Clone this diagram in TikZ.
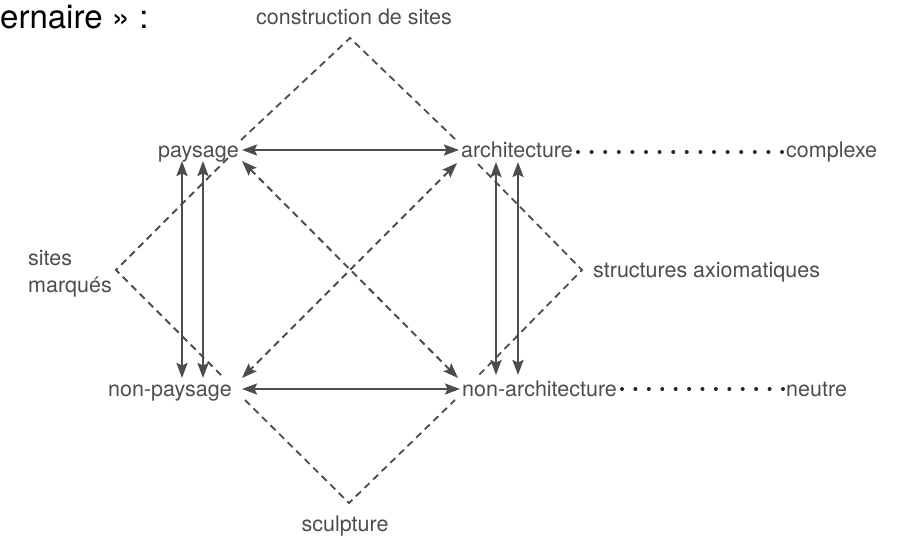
\documentclass[tikz,border=0pt]{standalone}
\usepackage{fontspec}
\setmainfont{TeX Gyre Heros}
\usetikzlibrary{arrows.meta}
\definecolor{ink}{HTML}{4D4D4D}
\tikzset{
  lbl/.style={text=ink, font=\fontsize{21.5}{25}\selectfont, inner sep=1pt, anchor=base west},
  tip/.style={Stealth[length=15pt,width=11pt,inset=2.5pt]},
  dbl/.style={draw=ink, line width=2pt, {Stealth[length=15pt,width=11pt,inset=2.5pt]}-{Stealth[length=15pt,width=11pt,inset=2.5pt]}},
  ddbl/.style={dbl, dash pattern=on 7pt off 5pt},
  dsh/.style={draw=ink, line width=1.8pt, dash pattern=on 7pt off 5pt},
  dots/.style={draw=black!85, line width=4pt, line cap=round}
}
\begin{document}
\begin{tikzpicture}[x=1pt,y=-1pt]
\useasboundingbox (0,0) rectangle (898,539);
% texts
\node[anchor=base west, inner sep=0pt, font=\fontsize{33}{38}\selectfont] (title) at (0,28) {ernaire » :};
\node[lbl, anchor=base] (cons) at (354,24) {construction de sites};
\node[lbl] (pay) at (157,157) {paysage};
\node[lbl] (arch) at (460,157) {architecture};
\node[lbl] (cplx) at (785,157) {complexe};
\node[lbl] (npay) at (107,396) {non-paysage};
\node[lbl] (narch) at (461,396) {non-architecture};
\node[lbl] (neu) at (785,396) {neutre};
\node[lbl] (sm1) at (27,265) {sites};
\node[lbl] (sm2) at (27,292) {marqués};
\node[lbl] (sa) at (592,277) {structures axiomatiques};
\node[lbl, anchor=base] (scul) at (345,531) {sculpture};
% vertices of the dashed triangles
\coordinate (T) at (350,38);
\coordinate (L) at (116,270);
\coordinate (R) at (582,270);
\coordinate (B) at (349,503);
\coordinate (Tl) at (241,140);
\coordinate (Tr) at (456,140);
\coordinate (Lt) at (228,158);
\coordinate (Lb) at (224,378);
\coordinate (Rt) at (478,164);
\coordinate (Rb) at (477,377);
\coordinate (Bl) at (245,400);
\coordinate (Br) at (455,400);
\draw[dsh] (Tl) -- (T) -- (Tr);
\draw[dsh] (Lt) -- (L) -- (Lb);
\draw[dsh] (Rt) -- (R) -- (Rb);
\draw[dsh] (Bl) -- (B) -- (Br);
% arrow end points
\coordinate (h1a) at (242,150); \coordinate (h1b) at (459,150);
\coordinate (h2a) at (242,389); \coordinate (h2b) at (460,389);
\coordinate (v1a) at (182,161); \coordinate (v1b) at (182,378);
\coordinate (v2a) at (203,161); \coordinate (v2b) at (203,378);
\coordinate (v3a) at (496,162); \coordinate (v3b) at (496,375);
\coordinate (v4a) at (518,162); \coordinate (v4b) at (518,375);
\coordinate (d1a) at (242,161); \coordinate (d1b) at (458,378);
\coordinate (d2a) at (457,163); \coordinate (d2b) at (242,378);
\draw[dbl] (h1a) -- (h1b);
\draw[dbl] (h2a) -- (h2b);
\draw[dbl] (v1a) -- (v1b);
\draw[dbl] (v2a) -- (v2b);
\draw[dbl] (v3a) -- (v3b);
\draw[dbl] (v4a) -- (v4b);
\draw[ddbl] (d1a) -- (d1b);
\draw[ddbl] (d2a) -- (d2b);
% dotted lines
\coordinate (p1a) at (578,152); \coordinate (p1b) at (782,152);
\coordinate (p2a) at (622,389); \coordinate (p2b) at (783,389);
\draw[dots, dash pattern=on 0pt off 13.6pt] (p1a) -- (p1b);
\draw[dots, dash pattern=on 0pt off 13.415pt] (p2a) -- (p2b);
\end{tikzpicture}
\end{document}
